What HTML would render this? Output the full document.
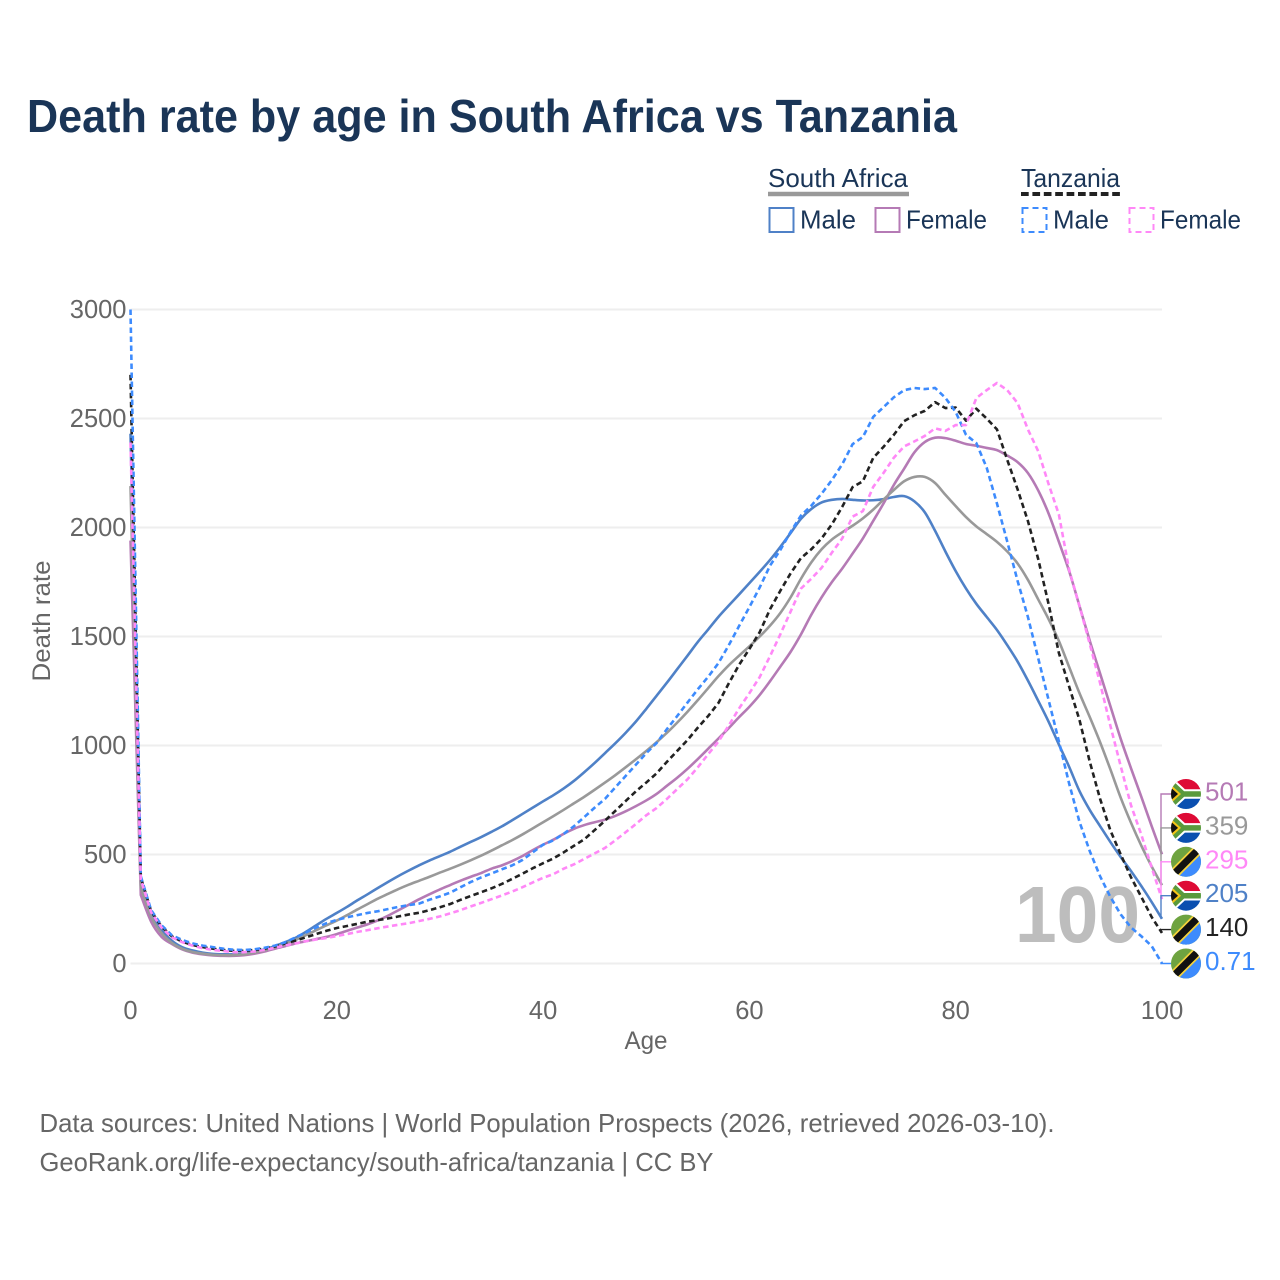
<!DOCTYPE html>
<html lang="en">
<head>
<meta charset="utf-8">
<title>Death rate by age in South Africa vs Tanzania</title>
<style>
html,body{margin:0;padding:0;background:#fff;width:1280px;height:1280px;overflow:hidden}
svg{display:block}
text{font-family:"Liberation Sans",sans-serif}
</style>
</head>
<body>
<svg id="chart" xmlns="http://www.w3.org/2000/svg" width="1280" height="1280" viewBox="0 0 1280 1280">
  <rect x="0" y="0" width="1280" height="1280" fill="#fff"/>
  <text x="27" y="132" font-size="46" font-weight="700" fill="#1a3557" textLength="930" lengthAdjust="spacingAndGlyphs">Death rate by age in South Africa vs Tanzania</text>

  <g font-size="26" fill="#1a3557">
    <text x="768" y="187" textLength="140" lengthAdjust="spacingAndGlyphs">South Africa</text>
    <line x1="768" y1="194" x2="909" y2="194" stroke="#999" stroke-width="4.5"/>
    <text x="1021" y="187" textLength="99" lengthAdjust="spacingAndGlyphs">Tanzania</text>
    <line x1="1021" y1="194" x2="1120" y2="194" stroke="#222" stroke-width="4" stroke-dasharray="7.7 3.7"/>
    <rect x="769.5" y="208" width="24" height="24" fill="none" stroke="#4f81c7" stroke-width="2"/>
    <text x="800" y="228.5" textLength="56" lengthAdjust="spacingAndGlyphs">Male</text>
    <rect x="875.5" y="208" width="24" height="24" fill="none" stroke="#b57ab5" stroke-width="2"/>
    <text x="906" y="228.5" textLength="81" lengthAdjust="spacingAndGlyphs">Female</text>
    <rect x="1022.5" y="208" width="24" height="24" fill="none" stroke="#3d8bfd" stroke-width="2" stroke-dasharray="6 4"/>
    <text x="1053" y="228.5" textLength="56" lengthAdjust="spacingAndGlyphs">Male</text>
    <rect x="1129.5" y="208" width="24" height="24" fill="none" stroke="#ff88f7" stroke-width="2" stroke-dasharray="6 4"/>
    <text x="1160" y="228.5" textLength="81" lengthAdjust="spacingAndGlyphs">Female</text>
  </g>

  <g id="grid"></g>
  <g id="yticks" font-size="25.5" fill="#666" text-anchor="end"></g>
  <g id="xticks" font-size="25.5" fill="#666" text-anchor="middle"></g>
  <text x="646" y="1049" font-size="25" fill="#666" text-anchor="middle" textLength="43" lengthAdjust="spacingAndGlyphs">Age</text>
  <text transform="translate(50,621) rotate(-90)" font-size="25" fill="#666" text-anchor="middle" textLength="121" lengthAdjust="spacingAndGlyphs">Death rate</text>

  <text x="1015" y="942" font-size="80" font-weight="700" fill="#bdbdbd" textLength="125" lengthAdjust="spacingAndGlyphs">100</text>

  <g id="series"></g>
  <g id="labels"></g>

  <g font-size="26" fill="#666">
    <text x="39.5" y="1132" textLength="1015" lengthAdjust="spacingAndGlyphs">Data sources: United Nations | World Population Prospects (2026, retrieved 2026-03-10).</text>
    <text x="39.5" y="1171" textLength="674" lengthAdjust="spacingAndGlyphs">GeoRank.org/life-expectancy/south-africa/tanzania | CC BY</text>
  </g>
</svg>
<script>
var yTickValues = [0, 500, 1000, 1500, 2000, 2500, 3000];
var xTickValues = [0, 20, 40, 60, 80, 100];

var saMale = [2430,380,235,155,105,75,60,50,44,42,42,46,53,65,80,98,118,145,175,205,232,260,290,318,347,375,402,427,451,473,493,513,536,558,580,604,629,657,686,715,744,772,803,838,878,920,965,1010,1058,1110,1168,1228,1288,1350,1412,1475,1532,1590,1642,1693,1745,1797,1851,1911,1975,2040,2085,2115,2127,2131,2127,2124,2125,2130,2140,2144,2120,2070,1985,1890,1800,1720,1650,1590,1530,1460,1385,1298,1205,1110,1005,902,791,704,630,557,488,424,355,282,205];
var saFemale = [1940,314,192,123,90,65,50,42,37,35,35,38,45,55,68,80,92,102,112,122,135,150,165,180,198,220,245,270,295,318,340,360,380,398,415,435,450,470,493,520,545,568,595,618,635,648,660,677,698,722,748,778,815,852,893,938,985,1032,1080,1130,1178,1232,1295,1362,1430,1510,1600,1680,1750,1812,1880,1950,2030,2110,2195,2270,2345,2392,2412,2410,2398,2383,2375,2365,2355,2330,2300,2250,2170,2065,1935,1800,1640,1480,1330,1180,1030,895,764,630,501];
var saTotal = [2190,350,215,140,95,68,53,45,40,38,38,42,50,60,75,90,108,130,153,175,197,222,248,273,298,320,342,362,380,398,417,435,454,474,495,518,542,566,592,620,648,676,705,735,765,797,830,864,900,937,975,1015,1058,1105,1155,1208,1263,1318,1368,1412,1455,1500,1550,1608,1680,1765,1840,1900,1945,1978,2008,2042,2082,2128,2172,2212,2232,2232,2204,2150,2098,2048,2005,1970,1934,1890,1835,1760,1670,1580,1480,1360,1240,1130,1015,890,760,645,540,445,359];
var tzMale = [3000,400,245,176,130,108,92,82,75,68,63,62,65,72,82,97,120,142,165,185,200,212,222,232,240,250,260,268,275,293,308,325,350,374,395,413,432,450,475,510,545,565,595,630,672,715,755,808,860,912,965,1011,1075,1135,1197,1258,1315,1378,1460,1548,1635,1725,1825,1897,1980,2055,2100,2155,2218,2290,2382,2415,2507,2552,2597,2630,2640,2635,2640,2595,2530,2425,2387,2275,2110,1935,1755,1590,1400,1210,1020,825,650,515,400,305,225,165,125,80,0.71];
var tzFemale = [2390,385,235,165,120,98,82,70,62,57,52,52,55,62,72,83,92,102,110,117,126,135,145,153,162,170,178,185,195,205,216,230,245,262,278,295,312,330,350,372,393,410,435,455,480,505,530,565,602,640,680,713,755,800,845,900,960,1018,1092,1170,1240,1314,1410,1510,1615,1720,1765,1815,1885,1950,2050,2075,2186,2250,2320,2372,2395,2420,2455,2443,2470,2470,2594,2630,2663,2630,2571,2450,2350,2200,2060,1805,1640,1465,1286,1090,905,725,590,440,295];
var tzTotal = [2700,395,240,170,125,100,85,75,68,62,58,58,62,68,78,92,105,120,135,150,163,172,182,192,199,207,216,225,233,245,258,273,292,310,327,345,365,388,412,437,460,482,510,540,570,612,655,700,745,790,830,872,925,975,1025,1082,1135,1195,1285,1370,1443,1520,1625,1710,1790,1860,1900,1950,2015,2095,2185,2212,2319,2370,2425,2488,2515,2535,2575,2548,2550,2490,2545,2500,2450,2310,2175,2030,1855,1650,1425,1270,1117,925,755,610,500,395,305,213,140];

var seriesList = [
  {name:'sa-male',   values:saMale,   color:'#4f81c7', dashed:false, flag:'sa'},
  {name:'sa-female', values:saFemale, color:'#b57ab5', dashed:false, flag:'sa'},
  {name:'sa-total',  values:saTotal,  color:'#999999', dashed:false, flag:'sa'},
  {name:'tz-total',  values:tzTotal,  color:'#222222', dashed:true,  flag:'tz'},
  {name:'tz-male',   values:tzMale,   color:'#3d8bfd', dashed:true,  flag:'tz'},
  {name:'tz-female', values:tzFemale, color:'#ff88f7', dashed:true,  flag:'tz'}
];

var NS = 'http://www.w3.org/2000/svg';
function xScale(a){ return 130.5 + a * 10.315; }
function yScale(v){ return 963.5 - v * 0.218; }
function mk(tag, attrs, parent){
  var el = document.createElementNS(NS, tag);
  for (var k in attrs) el.setAttribute(k, attrs[k]);
  parent.appendChild(el);
  return el;
}
function linePath(values){
  var p = values.map(function(v, i){ return [xScale(i), yScale(v)]; });
  var d = 'M' + p[0][0].toFixed(2) + ' ' + p[0][1].toFixed(2);
  for (var i = 1; i < p.length; i++) d += 'L' + p[i][0].toFixed(2) + ' ' + p[i][1].toFixed(2);
  return d;
}
function smoothPath(values){
  // straight drop from age 0 to age 1, Catmull-Rom through the remaining ages
  var p = values.map(function(v, i){ return [xScale(i), yScale(v)]; });
  var d = 'M' + p[0][0].toFixed(2) + ' ' + p[0][1].toFixed(2) + 'L' + p[1][0].toFixed(2) + ' ' + p[1][1].toFixed(2);
  for (var i = 1; i < p.length - 1; i++) {
    var a = p[Math.max(i - 1, 1)], b = p[i], c = p[i + 1], e = p[Math.min(i + 2, p.length - 1)];
    d += 'C' + (b[0] + (c[0] - a[0]) / 6).toFixed(2) + ' ' + (b[1] + (c[1] - a[1]) / 6).toFixed(2) +
         ' ' + (c[0] - (e[0] - b[0]) / 6).toFixed(2) + ' ' + (c[1] - (e[1] - b[1]) / 6).toFixed(2) +
         ' ' + c[0].toFixed(2) + ' ' + c[1].toFixed(2);
  }
  return d;
}

var gridG = document.getElementById('grid');
var yG = document.getElementById('yticks');
var xG = document.getElementById('xticks');
yTickValues.forEach(function(v){
  var y = yScale(v);
  var ln = mk('line', {x1:130.5, x2:1162, y1:y, y2:y, stroke:'#eeeeee', 'stroke-width':2}, gridG);
  
  
  var t = mk('text', {x:126.5, y:y + 8.5}, yG);
  
  
  t.textContent = String(v);
});
xTickValues.forEach(function(a){
  var t = mk('text', {x:xScale(a), y:1019}, xG);
  
  
  t.textContent = String(a);
});

var sG = document.getElementById('series');
seriesList.forEach(function(s){
  var attrs = {d:s.dashed ? linePath(s.values) : smoothPath(s.values), fill:'none', stroke:s.color, 'stroke-width':2.6, 'stroke-linejoin':'round'};
  if (s.dashed) attrs['stroke-dasharray'] = '5.5 3.5';
  var pl = mk('path', attrs, sG);
  
  
});

function drawSA(g){
  mk('rect', {x:-16, y:-16, width:32, height:13, fill:'#de0a35'}, g);
  mk('rect', {x:-16, y:-3, width:32, height:6, fill:'#fff'}, g);
  mk('rect', {x:-16, y:3, width:32, height:13, fill:'#0a4fb0'}, g);
  mk('polyline', {points:'-19,-15 -3,0 17,0 -3,0 -19,15', fill:'none', stroke:'#fff', 'stroke-width':9.5}, g);
  mk('polyline', {points:'-19,-15 -3,0 17,0 -3,0 -19,15', fill:'none', stroke:'#5a9a3c', 'stroke-width':5.5}, g);
  mk('polygon', {points:'-17,-11 -5,0 -17,11', fill:'#f5c518'}, g);
  mk('polygon', {points:'-17,-8 -8,0 -17,8', fill:'#111'}, g);
}
function drawTZ(g){
  mk('rect', {x:-16, y:-16, width:32, height:32, fill:'#6ea340'}, g);
  mk('polygon', {points:'16,-16 16,16 -16,16', fill:'#3d8bfd'}, g);
  mk('line', {x1:-18, y1:18, x2:18, y2:-18, stroke:'#f5d33c', 'stroke-width':10.5}, g);
  mk('line', {x1:-18, y1:18, x2:18, y2:-18, stroke:'#111', 'stroke-width':7}, g);
}

var labG = document.getElementById('labels');
var defs = mk('defs', {}, labG);
var clip = mk('clipPath', {id:'flag-clip'}, defs);
mk('circle', {cx:0, cy:0, r:15}, clip);

var ranked = seriesList.slice().sort(function(a, b){
  return b.values[b.values.length - 1] - a.values[a.values.length - 1];
});
ranked.forEach(function(s, i){
  var last = s.values[s.values.length - 1];
  var labY = 963.5 - (ranked.length - 1 - i) * 33.9;
  var lead = mk('polyline', {points:'1161,' + yScale(last).toFixed(1) + ' 1161,' + labY.toFixed(1) + ' 1171,' + labY.toFixed(1), fill:'none', stroke:s.color, 'stroke-width':1.4}, labG);
  
  
  var fg = mk('g', {transform:'translate(1186,' + labY.toFixed(1) + ')', 'clip-path':'url(#flag-clip)'}, labG);
  
  
  if (s.flag === 'sa') drawSA(fg); else drawTZ(fg);
  var t = mk('text', {x:1205, y:labY + 6.5, 'font-size':26, fill:s.color}, labG);
  
  
  t.textContent = String(last);
});
</script>
</body>
</html>
